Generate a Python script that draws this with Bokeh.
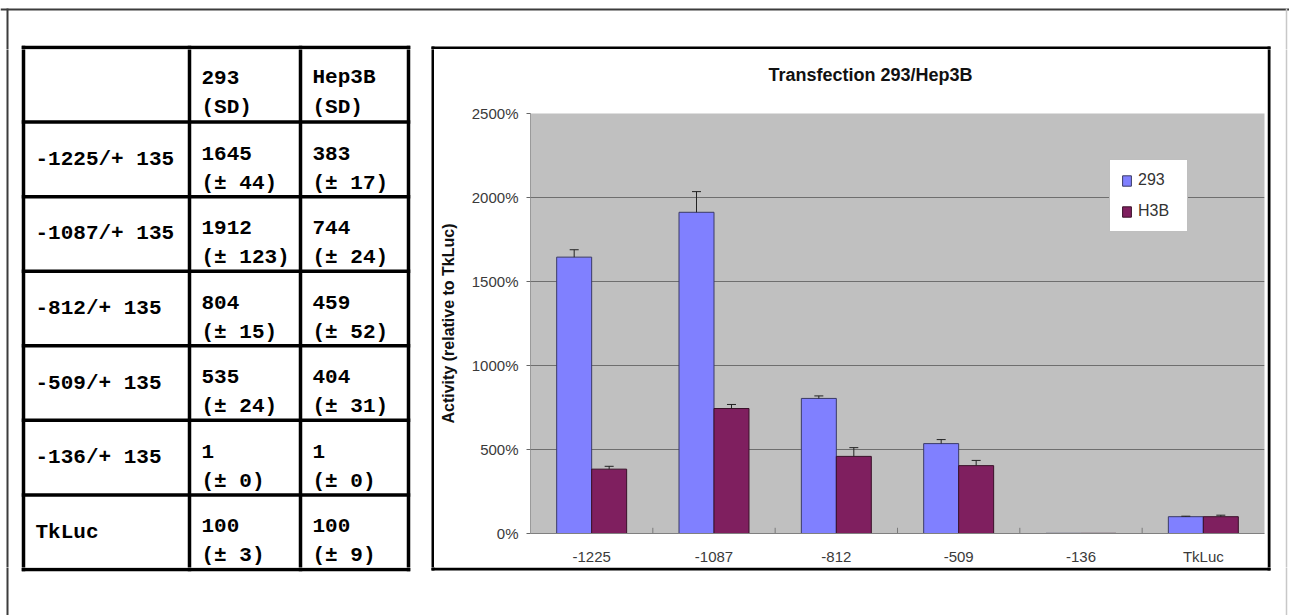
from bokeh.plotting import figure
from bokeh.layouts import row, column
from bokeh.models import Range1d, FactorRange, FixedTicker, PrintfTickFormatter, ColumnDataSource
from bokeh.transform import dodge
from bokeh.core.properties import value
from bokeh.embed import file_html
from bokeh.resources import INLINE

# ---------------- data ----------------
categories = ["-1225", "-1087", "-812", "-509", "-136", "TkLuc"]
row_labels = ["-1225/+ 135", "-1087/+ 135", "-812/+ 135", "-509/+ 135", "-136/+ 135", "TkLuc"]
act_293 = [1645, 1912, 804, 535, 1, 100]
sd_293 = [44, 123, 15, 24, 0, 3]
act_h3b = [383, 744, 459, 404, 1, 100]
sd_h3b = [17, 24, 52, 31, 0, 9]
table_headers = [("293", "(SD)"), ("Hep3B", "(SD)")]
series_names = ["293", "H3B"]
y_ticks = [0, 500, 1000, 1500, 2000, 2500]
title_text = "Transfection 293/Hep3B"
y_label = "Activity (relative to TkLuc)"

# ---------------- styling / page geometry (page pixels) ----------------
SANS = "Liberation Sans"
MONO = "Liberation Mono"
C293 = "#8080FF"
CH3B = "#7F1F5F"
PAGE_L, PAGE_T, PAGE_R, PAGE_B = 0, 0, 1289, 615
BOX_L, BOX_T, BOX_R, BOX_B = 432.5, 47.5, 1268.5, 568.5
IN_L, IN_T, IN_R, IN_B = 434, 49, 1267, 567
TITLE_B = 100
FRAME_L, FRAME_R = 530, 1264
TAB_T, TAB_B = 47, 569
TAB_COLS = [23, 189, 300, 408]
N_ROWS = len(row_labels) + 1
ROW_H = (TAB_B - TAB_T) / N_ROWS
ROW_Y = [TAB_T + i * ROW_H for i in range(N_ROWS + 1)]


def blank(width, height, xr, yr, **kw):
    p = figure(width=width, height=height, x_range=xr, y_range=yr,
               toolbar_location=None, output_backend="svg",
               x_axis_location=None, y_axis_location=None, outline_line_color=None,
               background_fill_color="white", border_fill_color="white", **kw)
    p.grid.visible = False
    return p


def deco(x0, x1, y0, y1):
    p = blank(x1 - x0, y1 - y0, Range1d(x0, x1), Range1d(y1, y0), min_border=0)
    # outer frame
    p.segment(x0=[PAGE_L, 7], y0=[9, 8], x1=[PAGE_R, 7], y1=[9, PAGE_B],
              line_color="#3c3c3c", line_width=2)
    p.segment(x0=[1286], y0=[8], x1=[1286], y1=[PAGE_B], line_color="#c8c8c8", line_width=1.5)
    # chart box
    p.segment(x0=[BOX_L - 1.5, BOX_L - 1.5, BOX_L, BOX_R], y0=[BOX_T, BOX_B, BOX_T - 1.5, BOX_T - 1.5],
              x1=[BOX_R + 1.5, BOX_R + 1.5, BOX_L, BOX_R], y1=[BOX_T, BOX_B, BOX_B + 1.5, BOX_B + 1.5],
              line_color="black", line_width=3)
    # table grid
    n = len(ROW_Y)
    p.segment(x0=[TAB_COLS[0] - 1.75] * n, y0=ROW_Y, x1=[TAB_COLS[-1] + 1.75] * n, y1=ROW_Y,
              line_color="black", line_width=3.5)
    m = len(TAB_COLS)
    p.segment(x0=TAB_COLS, y0=[TAB_T - 1.75] * m, x1=TAB_COLS, y1=[TAB_B + 1.75] * m,
              line_color="black", line_width=3.5)
    return p


top_f = deco(PAGE_L, PAGE_R, PAGE_T, IN_T)
left_f = deco(PAGE_L, IN_L, IN_T, IN_B)
right_f = deco(IN_R, PAGE_R, IN_T, IN_B)
bottom_f = deco(PAGE_L, PAGE_R, IN_B, PAGE_B)

# title strip: its frame is aligned with the chart frame
title_f = blank(IN_R - IN_L, TITLE_B - IN_T, Range1d(FRAME_L, FRAME_R), Range1d(TITLE_B, IN_T),
                min_border_left=FRAME_L - IN_L, min_border_right=IN_R - FRAME_R,
                min_border_top=0, min_border_bottom=0)
title_f.text(x=[870], y=[74], text=[title_text], text_font=value(SANS), text_font_style="bold",
             text_font_size="18px", text_align="center", text_baseline="middle", text_color="#111111")

# ---------------- table texts ----------------
tx, ty, tt = [], [], []
lx, ly, lt = [], [], []
for j, (h1, h2) in enumerate(table_headers):
    x = TAB_COLS[j + 1] + 12
    tx += [x, x]
    ty += [ROW_Y[0] + 30, ROW_Y[0] + 60]
    tt += [h1, h2]
for i, lab in enumerate(row_labels):
    top = ROW_Y[i + 1]
    lx.append(TAB_COLS[0] + 12)
    ly.append(top + ROW_H / 2)
    lt.append(lab)
    for j, (v, e) in enumerate([(act_293[i], sd_293[i]), (act_h3b[i], sd_h3b[i])]):
        x = TAB_COLS[j + 1] + 12
        tx += [x, x]
        ty += [top + 31, top + 61]
        tt += [str(v), "(\u00b1 %d)" % e]

left_f.text(x=tx, y=ty, text=tt, text_font=value(MONO), text_font_style="bold",
            text_font_size="21px", text_baseline="alphabetic", text_align="left", text_color="black")
left_f.text(x=lx, y=ly, text=lt, text_font=value(MONO), text_font_style="bold",
            text_font_size="21px", text_baseline="middle", text_align="left", text_color="black")

# ---------------- chart ----------------
src = ColumnDataSource(dict(cat=categories, a=act_293, b=act_h3b))

p = figure(width=IN_R - IN_L, height=IN_B - TITLE_B, x_range=FactorRange(*categories),
           y_range=Range1d(0, 2500), min_border_left=FRAME_L - IN_L, min_border_right=IN_R - FRAME_R,
           min_border_top=13, min_border_bottom=33, toolbar_location=None, output_backend="svg",
           background_fill_color="#C0C0C0", border_fill_color="white", outline_line_color=None)

p.ygrid.ticker = FixedTicker(ticks=y_ticks[1:-1])
p.ygrid.grid_line_color = "#6e6e6e"
p.ygrid.grid_line_width = 1
p.xgrid.visible = False

off = 0.143
bw = 0.286
p.vbar(x=dodge("cat", -off, range=p.x_range), top="a", width=bw, source=src,
       fill_color=C293, line_color="#3a3a66", line_width=1, legend_label=series_names[0])
p.vbar(x=dodge("cat", off, range=p.x_range), top="b", width=bw, source=src,
       fill_color=CH3B, line_color="#3a1029", line_width=1, legend_label=series_names[1])

# error bars (plus direction only, as in the original)
for o, vals, errs in [(-off, act_293, sd_293), (off, act_h3b, sd_h3b)]:
    keep = [k for k, e in enumerate(errs) if e > 0]
    es = ColumnDataSource(dict(cat=[categories[k] for k in keep],
                               lo=[vals[k] for k in keep],
                               hi=[vals[k] + errs[k] for k in keep]))
    xd = dodge("cat", o, range=p.x_range)
    p.segment(x0=xd, y0="lo", x1=xd, y1="hi", source=es, line_color="#222222", line_width=1)
    p.scatter(x=xd, y="hi", marker="dash", size=9, source=es, line_color="#222222", line_width=1)

# category separator ticks (Excel style)
nsep = len(categories) - 1
sep = ColumnDataSource(dict(cat=categories[:-1], y0=[0] * nsep, y1=[34] * nsep))
xs = dodge("cat", 0.5, range=p.x_range)
p.segment(x0=xs, y0="y0", x1=xs, y1="y1", source=sep, line_color="#7a7a7a", line_width=1)

p.yaxis.ticker = FixedTicker(ticks=y_ticks)
p.yaxis.formatter = PrintfTickFormatter(format="%d%%")
p.yaxis.major_tick_out = 4
p.yaxis.major_tick_in = 0
p.yaxis.minor_tick_out = 0
p.yaxis.minor_tick_in = 0
p.yaxis.major_tick_line_color = "#666666"
p.yaxis.axis_line_color = "#9a9a9a"
p.yaxis.major_label_text_font = SANS
p.yaxis.major_label_text_font_size = "15px"
p.yaxis.major_label_text_color = "#3a3a3a"
p.yaxis.major_label_standoff = 8
p.yaxis.axis_label = y_label
p.yaxis.axis_label_text_font = SANS
p.yaxis.axis_label_text_font_style = "bold"
p.yaxis.axis_label_text_font_size = "16px"
p.yaxis.axis_label_text_color = "#111111"
p.yaxis.axis_label_standoff = 12

p.xaxis.major_tick_out = 0
p.xaxis.major_tick_in = 0
p.xaxis.axis_line_color = "#808080"
p.xaxis.major_label_text_font = SANS
p.xaxis.major_label_text_font_size = "15px"
p.xaxis.major_label_text_color = "#3a3a3a"
p.xaxis.major_label_standoff = 14

lg = p.legend[0]
lg.location = (579, 301)
lg.border_line_color = "#808080"
lg.border_line_width = 1
lg.background_fill_color = "white"
lg.background_fill_alpha = 1
lg.padding = 11
lg.spacing = 13
lg.margin = 0
lg.glyph_width = 11
lg.glyph_height = 13
lg.label_height = 18
lg.label_width = 38
lg.label_standoff = 6
lg.label_text_font = SANS
lg.label_text_font_size = "16px"
lg.label_text_color = "#333333"

layout = column(top_f, row(left_f, column(title_f, p), right_f), bottom_f)

open("out.html", "w").write(file_html(layout, INLINE))
